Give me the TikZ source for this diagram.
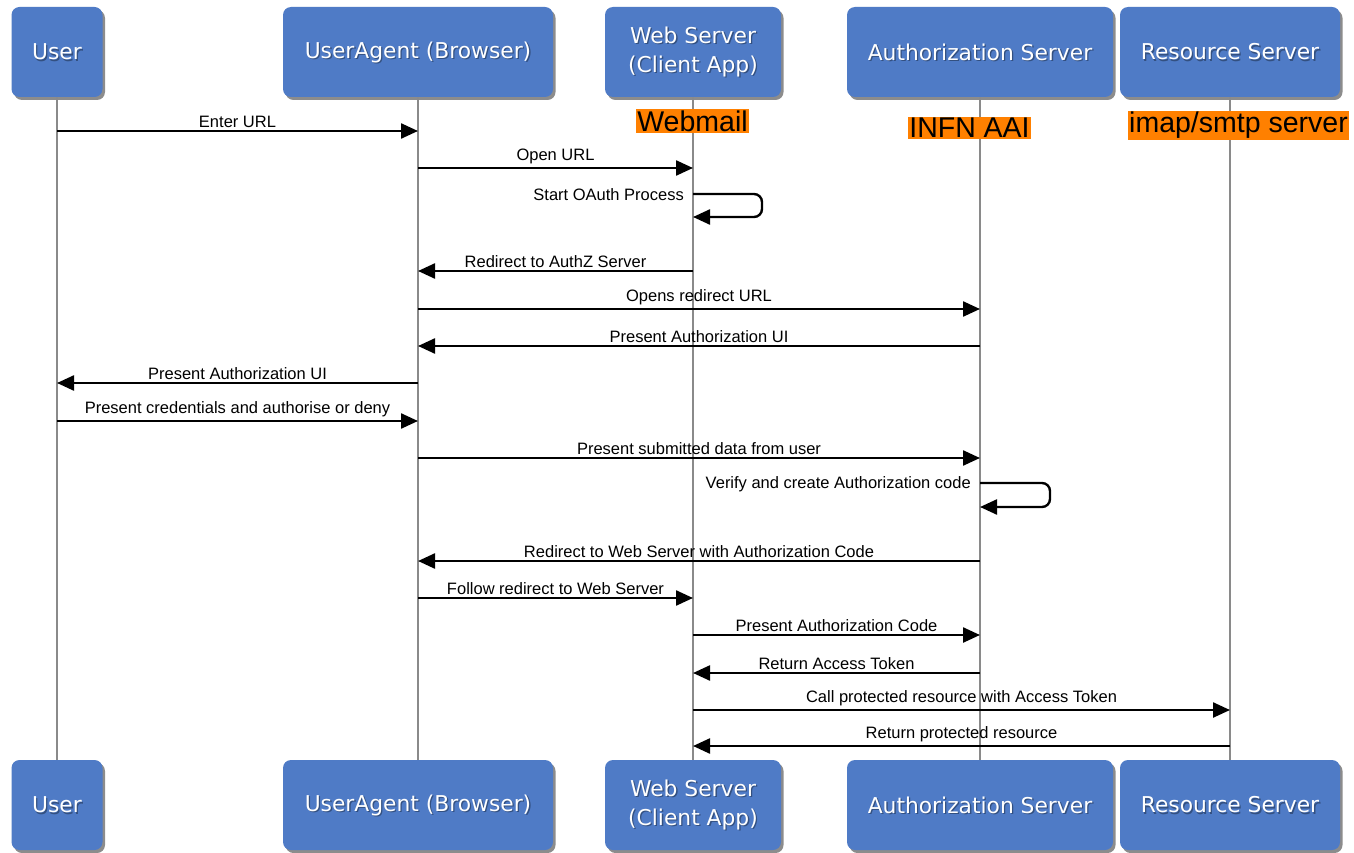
\documentclass[tikz,border=0pt]{standalone}
\usepackage{fontspec}
\setmainfont{Liberation Sans}
\newfontfamily\boxfont{DejaVu Sans}
\usetikzlibrary{arrows.meta,shadows,calc}
\definecolor{boxblue}{HTML}{4F7BC6}
\definecolor{lifegray}{HTML}{8A8A8A}
\definecolor{tagorange}{HTML}{FF8000}
\tikzset{
  actor/.style={rectangle, rounded corners=8pt, fill=boxblue, minimum height=90pt, inner sep=0pt,
    drop shadow={shadow xshift=2.5pt, shadow yshift=-3pt, opacity=0.45, fill=black}},
  actortext/.style={text=white, font=\boxfont\fontsize{21.8}{29}\selectfont, align=center, inner sep=0pt},
  actorshade/.style={text=black, text opacity=0.35, font=\boxfont\fontsize{21.8}{29}\selectfont, align=center, inner sep=0pt},
  life/.style={draw=lifegray, line width=1.8pt},
  msg/.style={draw=black, line width=2.4pt, -{Triangle[length=17pt,width=15pt]}},
  lbl/.style={font=\fontsize{16.5}{19}\selectfont, inner sep=2.5pt, above},
  selflbl/.style={font=\fontsize{16.5}{19}\selectfont, inner sep=0pt, anchor=east},
  tag/.style={fill=tagorange, font=\fontsize{28.5}{31}\selectfont, inner sep=1.2pt, text=black}
}
\newcommand\actorbox[5]{%
  \node[actor, minimum width=#4] (#1) at (#2,#3) {};
  \node[actorshade] at ($(#1)+(1.3,1.3)$) {#5};
  \node[actortext] at (#1) {#5};}
\begin{document}
\begin{tikzpicture}[x=1pt,y=-1pt]
\fill[white] (0,0) rectangle (1354,853);
\useasboundingbox (0,0) rectangle (1354,853);
% top actors
\actorbox{u}{57}{52}{91pt}{User}
\actorbox{ua}{418}{52}{270pt}{UserAgent (Browser)}
\actorbox{ws}{693}{52}{176pt}{Web Server\\(Client App)}
\actorbox{as}{980}{52}{266pt}{Authorization Server}
\actorbox{rs}{1230}{52}{220pt}{Resource Server}
% bottom actors
\actorbox{ub}{57}{805}{91pt}{User}
\actorbox{uab}{418}{805}{270pt}{UserAgent (Browser)}
\actorbox{wsb}{693}{805}{176pt}{Web Server\\(Client App)}
\actorbox{asb}{980}{805}{266pt}{Authorization Server}
\actorbox{rsb}{1230}{805}{220pt}{Resource Server}
% lifelines
\draw[life] (u.south) -- (ub.north);
\draw[life] (ua.south) -- (uab.north);
\draw[life] (ws.south) -- (wsb.north);
\draw[life] (as.south) -- (asb.north);
\draw[life] (rs.south) -- (rsb.north);
% tags
\node[tag] (t1) at (692.5,121) {Webmail};
\node[tag] (t2) at (969.5,128) {INFN AAI};
\node[tag] (t3) at (1238.5,125.5) {imap/smtp server};
% messages
\draw[msg] (u |- 0,131) -- node[lbl]{Enter URL} (ua |- 0,131);
\draw[msg] (ua |- 0,168) -- node[lbl]{Open URL} (ws |- 0,168);
\draw[msg, rounded corners=8pt] (ws |- 0,194) -- ++(69,0) -- ++(0,23) -- (ws |- 0,217);
\node[selflbl] (l3) at ($(ws |- 0,195)+(-9,0)$) {Start OAuth Process};
\draw[msg] (ws |- 0,271) -- node[lbl]{Redirect to AuthZ Server} (ua |- 0,271);
\draw[msg] (ua |- 0,309) -- node[lbl]{Opens redirect URL} (as |- 0,309);
\draw[msg] (as |- 0,346) -- node[lbl]{Present Authorization UI} (ua |- 0,346);
\draw[msg] (ua |- 0,383) -- node[lbl]{Present Authorization UI} (u |- 0,383);
\draw[msg] (u |- 0,421) -- node[lbl]{Present credentials and authorise or deny} (ua |- 0,421);
\draw[msg] (ua |- 0,458) -- node[lbl]{Present submitted data from user} (as |- 0,458);
\draw[msg, rounded corners=8pt] (as |- 0,483) -- ++(70,0) -- ++(0,24) -- (as |- 0,507);
\node[selflbl] (l10) at ($(as |- 0,484)+(-9,0)$) {Verify and create Authorization code};
\draw[msg] (as |- 0,561) -- node[lbl]{Redirect to Web Server with Authorization Code} (ua |- 0,561);
\draw[msg] (ua |- 0,598) -- node[lbl]{Follow redirect to Web Server} (ws |- 0,598);
\draw[msg] (ws |- 0,635) -- node[lbl]{Present Authorization Code} (as |- 0,635);
\draw[msg] (as |- 0,673) -- node[lbl]{Return Access Token} (ws |- 0,673);
\draw[msg] (ws |- 0,710) -- node[lbl]{Call protected resource with Access Token} (rs |- 0,710);
\draw[msg] (rs |- 0,746) -- node[lbl]{Return protected resource} (ws |- 0,746);
\end{tikzpicture}
\end{document}
